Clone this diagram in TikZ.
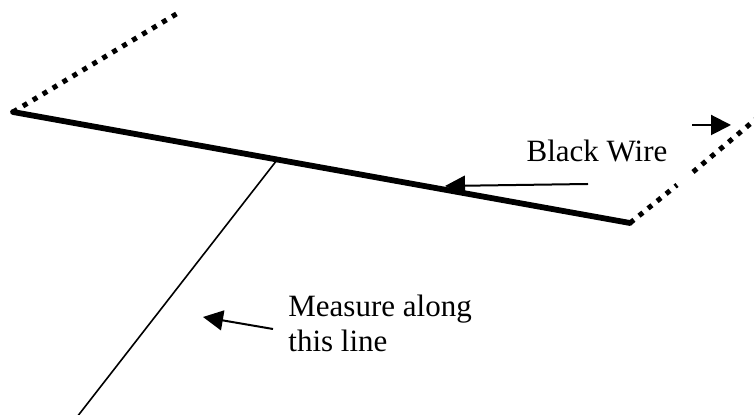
\documentclass[tikz,border=0pt]{standalone}
\usepackage{fontspec}
\setmainfont{Liberation Serif}
\usetikzlibrary{arrows.meta}

\begin{document}
\begin{tikzpicture}[x=0.5pt,y=-0.5pt,
    wire/.style={line width=2.9pt,line cap=round},
    loose/.style={line width=2.5pt,dash pattern=on 2.5pt off 3.3pt},
    gauge/.style={line width=0.8pt},
    pointer/.style={line width=1pt,-{Triangle[length=10pt,width=10pt]}},
    label/.style={font=\fontsize{15.5}{17.5}\selectfont,inner sep=0pt}]
  \useasboundingbox (0,0) rectangle (754,415);

  % --- the points of the wire and of the line to measure along ---
  \coordinate (wireL)  at ( 13,112);
  \coordinate (wireR)  at (630,223);
  \coordinate (foot)   at (277,160);
  \coordinate (base)   at ( 77,417);
  \coordinate (looseL) at (178, 13);
  \coordinate (gapA)   at (677,185);
  \coordinate (gapB)   at (693,172);
  \coordinate (looseR) at (756,119);

  % --- the black wire, its loose ends dotted ---
  \draw[wire]  (wireL) -- (wireR);
  \draw[loose] (wireL) -- (looseL);
  \draw[loose] (wireR) -- (gapA);
  \draw[loose] (gapB)  -- (looseR);

  % --- the line to measure along ---
  \draw[gauge] (foot) -- (base);

  % --- lettering ---
  \node[label,anchor=base]                 (blackwire) at (597,162) {Black Wire};
  \node[label,anchor=base west,align=left] (measure)   at (288,352) {Measure along\\this line};

  % --- the pointers ---
  \coordinate (wireTail) at (588,184);
  \coordinate (wireTip)  at (445,186);
  \coordinate (measTail) at (273,329);
  \coordinate (measTip)  at (203,317);
  \coordinate (endTail)  at (692,125);
  \coordinate (endTip)   at (731,125);
  \draw[pointer] (wireTail) -- (wireTip);
  \draw[pointer] (measTail) -- (measTip);
  \draw[pointer] (endTail)  -- (endTip);
\end{tikzpicture}
\end{document}
